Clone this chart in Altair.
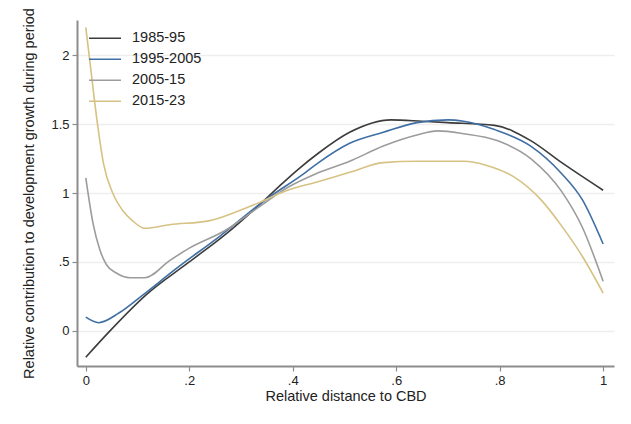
import altair as alt
import pandas as pd

# Relative distance to the CBD (0 = centre, 1 = edge) and each period's
# relative contribution to development growth.
periods = ["1985-95", "1995-2005", "2005-15", "2015-23"]
colors = ["#3c3c3c", "#3f6fa5", "#9c9c9c", "#d6c283"]

x_1985 = [0.0, 0.044, 0.116, 0.2, 0.27, 0.34, 0.38, 0.41, 0.45, 0.51, 0.59, 0.65, 0.70, 0.79, 0.86, 0.92, 1.0]
y_1985 = [-0.19, -0.01, 0.26, 0.50, 0.70, 0.93, 1.07, 1.17, 1.29, 1.44, 1.53, 1.52, 1.51, 1.49, 1.38, 1.22, 1.02]

x_1995 = [0.0, 0.025, 0.064, 0.11, 0.174, 0.26, 0.34, 0.425, 0.45, 0.51, 0.575, 0.64, 0.70, 0.73, 0.79, 0.86, 0.92, 0.96, 1.0]
y_1995 = [0.10, 0.06, 0.13, 0.26, 0.45, 0.69, 0.93, 1.15, 1.22, 1.36, 1.44, 1.51, 1.53, 1.52, 1.46, 1.34, 1.14, 0.95, 0.63]

x_2005 = [0.0, 0.014, 0.027, 0.04, 0.059, 0.085, 0.114, 0.162, 0.2, 0.27, 0.335, 0.39, 0.445, 0.51, 0.575, 0.64, 0.68, 0.73, 0.795, 0.86, 0.92, 0.96, 1.0]
y_2005 = [1.11, 0.78, 0.59, 0.48, 0.42, 0.386, 0.386, 0.51, 0.60, 0.73, 0.90, 1.04, 1.14, 1.23, 1.34, 1.42, 1.45, 1.43, 1.38, 1.25, 1.01, 0.75, 0.36]

x_2015 = [0.0, 0.008, 0.0226, 0.035, 0.052, 0.072, 0.09, 0.114, 0.162, 0.24, 0.285, 0.335, 0.39, 0.447, 0.51, 0.575, 0.64, 0.70, 0.73, 0.775, 0.826, 0.88, 0.92, 0.96, 1.0]
y_2015 = [2.20, 1.95, 1.5, 1.2, 1.0, 0.87, 0.80, 0.744, 0.77, 0.80, 0.855, 0.93, 1.02, 1.08, 1.15, 1.22, 1.23, 1.23, 1.23, 1.20, 1.12, 0.95, 0.76, 0.54, 0.275]

series = [(periods[0], x_1985, y_1985), (periods[1], x_1995, y_1995),
          (periods[2], x_2005, y_2005), (periods[3], x_2015, y_2015)]
rows = []
for name, xs, ys in series:
    for xv, yv in zip(xs, ys):
        rows.append({"period": name, "dist": xv, "contrib": yv})
df = pd.DataFrame(rows)

font = "Liberation Sans"
short_num = "datum.value == 0 ? '0' : (abs(datum.value) < 1 ? '.' + slice(format(datum.value, '.1f'), 2) : format(datum.value, '~g'))"

chart = alt.Chart(df).mark_line(interpolate="monotone", strokeWidth=1.6).encode(
    x=alt.X("dist:Q",
            scale=alt.Scale(domain=[-0.017, 1.021], nice=False, zero=False),
            axis=alt.Axis(title="Relative distance to CBD", values=[0, 0.2, 0.4, 0.6, 0.8, 1],
                          labelExpr=short_num, grid=False, tickSize=5,
                          labelPadding=3, titlePadding=2)),
    y=alt.Y("contrib:Q",
            scale=alt.Scale(domain=[-0.254, 2.254], nice=False, zero=False),
            axis=alt.Axis(title="Relative contribution to development growth during period",
                          values=[0, 0.5, 1, 1.5, 2], labelExpr=short_num,
                          grid=True, tickSize=5, labelPadding=3, titlePadding=14)),
    color=alt.Color("period:N", scale=alt.Scale(domain=periods, range=colors),
                    legend=alt.Legend(title=None, orient="none", legendX=11, legendY=8,
                                      symbolType="stroke", symbolSize=1024,
                                      symbolStrokeWidth=1.6, rowPadding=0, clipHeight=20.6,
                                      labelOffset=10, labelFontSize=14.5, labelFont=font,
                                      labelColor="#222222", padding=0)),
    detail="period:N",
).properties(
    width=537, height=346,
    autosize="none",
    padding={"left": 77, "top": 20, "right": 17, "bottom": 58},
    background="white",
).configure_view(
    stroke=None
).configure_axis(
    domainColor="#8c8c8c", domainWidth=2, tickColor="#8c8c8c", tickWidth=1.2,
    gridColor="#eeeeee", gridWidth=1.4,
    labelFont=font, labelFontSize=13, labelColor="#222222",
    titleFont=font, titleFontSize=14.5, titleFontWeight="normal", titleColor="#222222",
)

chart.save("out.html", embed_options={"renderer": "svg", "actions": False})
